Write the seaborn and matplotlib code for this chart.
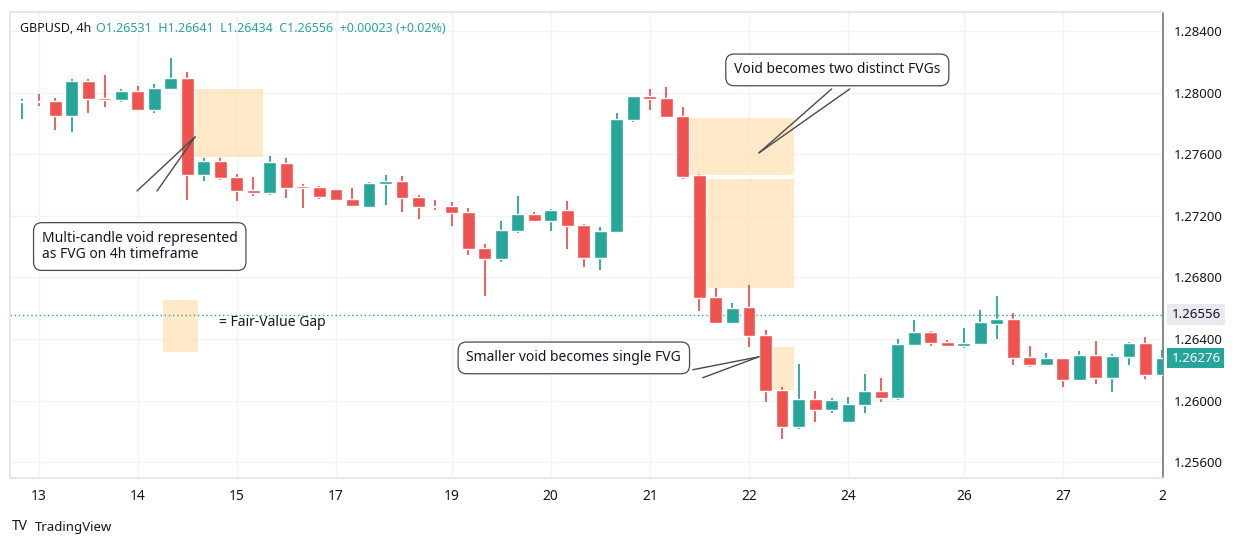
import numpy as np
import pandas as pd
import matplotlib
matplotlib.use('Agg')
import matplotlib.pyplot as plt
import seaborn as sns
from matplotlib.patches import Rectangle

# GBPUSD 4h candles
opens = [1.27939, 1.27946, 1.27946, 1.27848, 1.28075, 1.27965, 1.27952, 1.28010, 1.27887, 1.28023,
         1.28095, 1.27465, 1.27556, 1.27452, 1.27368, 1.27348, 1.27543, 1.27394, 1.27387, 1.27374,
         1.27309, 1.27258, 1.27407, 1.27426, 1.27322, 1.27264, 1.27264, 1.27225, 1.26991, 1.26920,
         1.27102, 1.27212, 1.27167, 1.27238, 1.27141, 1.26927, 1.27095, 1.27822, 1.27978, 1.27965,
         1.27848, 1.27465, 1.26674, 1.26505, 1.26609, 1.26427, 1.26070, 1.25830, 1.26011, 1.25940,
         1.25862, 1.25973, 1.26063, 1.26018, 1.26362, 1.26446, 1.26381, 1.26355, 1.26368, 1.26498,
         1.26531, 1.26284, 1.26232, 1.26277, 1.26135, 1.26297, 1.26148, 1.26284, 1.26375, 1.26168]
highs = [1.27959, 1.27991, 1.27965, 1.28088, 1.28088, 1.28114, 1.28023, 1.28043, 1.28056, 1.28225,
         1.28134, 1.27576, 1.27576, 1.27472, 1.27452, 1.27589, 1.27576, 1.27407, 1.27394, 1.27374,
         1.27381, 1.27420, 1.27465, 1.27459, 1.27335, 1.27303, 1.27290, 1.27251, 1.27017, 1.27167,
         1.27329, 1.27225, 1.27245, 1.27297, 1.27147, 1.27128, 1.27868, 1.27978, 1.28023, 1.28036,
         1.27907, 1.27472, 1.26732, 1.26635, 1.26751, 1.26459, 1.26089, 1.26238, 1.26063, 1.26018,
         1.26024, 1.26174, 1.26148, 1.26401, 1.26524, 1.26453, 1.26394, 1.26472, 1.26589, 1.26680,
         1.26570, 1.26355, 1.26310, 1.26277, 1.26323, 1.26388, 1.26303, 1.26381, 1.26414, 1.26329]
lows = [1.27829, 1.27913, 1.27757, 1.27744, 1.27868, 1.27907, 1.27939, 1.27887, 1.27868, 1.28023,
        1.27303, 1.27426, 1.27433, 1.27297, 1.27329, 1.27335, 1.27316, 1.27251, 1.27309, 1.27297,
        1.27258, 1.27258, 1.27271, 1.27225, 1.27180, 1.27238, 1.27134, 1.26946, 1.26680, 1.26901,
        1.27089, 1.27167, 1.27102, 1.26985, 1.26868, 1.26850, 1.27089, 1.27810, 1.27887, 1.27843,
        1.27439, 1.26583, 1.26505, 1.26505, 1.26349, 1.25992, 1.25752, 1.25817, 1.25862, 1.25921,
        1.25862, 1.25921, 1.25992, 1.26005, 1.26362, 1.26355, 1.26355, 1.26342, 1.26368, 1.26401,
        1.26232, 1.26219, 1.26232, 1.26089, 1.26128, 1.26109, 1.26057, 1.26232, 1.26141, 1.26168]
closes = [1.27946, 1.27939, 1.27848, 1.28075, 1.27959, 1.27952, 1.28010, 1.27887, 1.28030, 1.28095,
          1.27465, 1.27556, 1.27446, 1.27361, 1.27348, 1.27550, 1.27381, 1.27381, 1.27322, 1.27303,
          1.27264, 1.27413, 1.27426, 1.27316, 1.27258, 1.27258, 1.27219, 1.26985, 1.26920, 1.27108,
          1.27212, 1.27167, 1.27238, 1.27134, 1.26927, 1.27102, 1.27829, 1.27978, 1.27959, 1.27843,
          1.27452, 1.26667, 1.26505, 1.26602, 1.26420, 1.26063, 1.25830, 1.26011, 1.25940, 1.26005,
          1.25979, 1.26063, 1.26018, 1.26368, 1.26446, 1.26375, 1.26355, 1.26375, 1.26511, 1.26531,
          1.26277, 1.26232, 1.26277, 1.26135, 1.26297, 1.26148, 1.26290, 1.26375, 1.26168, 1.26277]

day_labels = ['13', '14', '15', '17', '19', '20', '21', '22', '24', '26', '27', '2']
day_candle = [1, 7, 13, 19, 26, 32, 38, 44, 50, 57, 63, 69]

# fair value gaps: (start idx, end idx, low, high)
fvg_zones = [(9.55, 14.6, 1.27582, 1.28023),
             (39.65, 46.7, 1.27465, 1.27836),
             (40.6, 46.7, 1.26732, 1.27439),
             (44.6, 46.7, 1.26070, 1.26349)]
legend_zone = (8.55, 10.65, 1.26316, 1.26654)

last_price = 1.26556
close_price = 1.26276
yticks = [1.256, 1.260, 1.264, 1.268, 1.272, 1.276, 1.280, 1.284]

GREEN = '#26a69a'
RED = '#ef5350'
FVG = '#ffe0b2'

sns.set_theme(style='white', font='Noto Sans')
plt.rcParams['font.size'] = 10

df = pd.DataFrame({'open': opens, 'high': highs, 'low': lows, 'close': closes})
df['x'] = np.arange(len(df))
df['up'] = df['close'] >= df['open']
df['color'] = np.where(df['up'], GREEN, RED)

fig = plt.figure(figsize=(12.37, 5.46), dpi=100)
ax = fig.add_axes([10 / 1237, 1 - 478 / 546, 1153 / 1237, 466 / 546])

for y in yticks:
    ax.axhline(y, color='#f0f3fa', lw=1, zorder=0)
for d in day_candle:
    ax.axvline(d, color='#f0f3fa', lw=1, zorder=0)

for x0, x1, lo, hi in fvg_zones:
    ax.add_patch(Rectangle((x0, lo), x1 - x0, hi - lo, color=FVG, alpha=0.7, lw=0, zorder=1))
x0, x1, lo, hi = legend_zone
ax.add_patch(Rectangle((x0, lo), x1 - x0, hi - lo, color=FVG, alpha=0.7, lw=0, zorder=1))
ax.text(11.95, (lo + hi) / 2 + 0.0002, '= Fair-Value Gap', va='center', fontsize=10, color='#131722')

ax.vlines(df['x'], df['low'], df['high'], colors=df['color'], lw=1.3, zorder=2)
bottoms = np.minimum(df['open'], df['close'])
heights = np.maximum(np.abs(df['close'] - df['open']), 0.00003)
ax.bar(df['x'], heights, bottom=bottoms, width=0.78, color=df['color'], zorder=3)

ax.axhline(last_price, color=GREEN, lw=1, ls=(0, (1, 2)), zorder=1)

ax.set_xlim(-0.73, 69.06)
ax.set_ylim(1.25497, 1.28523)
ax.set_xticks(day_candle)
ax.set_xticklabels(day_labels, fontsize=10, color='#131722')
ax.yaxis.tick_right()
ax.set_yticks(yticks)
ax.set_yticklabels([f'{v:.5f}' for v in yticks], fontsize=9.5, color='#131722')
ax.tick_params(axis='both', length=0, pad=8)
for side in ['top', 'left', 'bottom']:
    ax.spines[side].set_color('#e0e3eb')
ax.spines['right'].set_color('#787b86')

# price labels on right scale
for price, fc, tc in [(last_price, '#e8eaf0', '#131722'), (close_price, GREEN, 'white')]:
    ax.annotate(f'{price:.5f}', xy=(1.0, price), xycoords=('axes fraction', 'data'),
                xytext=(6, 0), textcoords='offset points', va='center', fontsize=9.5,
                fontweight='bold', color=tc, annotation_clip=False,
                bbox=dict(boxstyle='square,pad=0.3', fc=fc, ec='none'))

# callouts
callouts = [
    ('Multi-candle void represented\nas FVG on 4h timeframe', (1.2, 1.27000), [(6.96, 1.27361), (8.17, 1.27361)], (10.47, 1.27712)),
    ('Void becomes two distinct FVGs', (43.1, 1.28147), [(49.0, 1.28023), (50.1, 1.28023)], (44.6, 1.27608)),
    ('Smaller void becomes single FVG', (26.9, 1.26277), [(40.6, 1.26200), (41.2, 1.26148)], (44.6, 1.26284)),
]
for txt, pos, bases, tip in callouts:
    ax.text(pos[0], pos[1], txt, fontsize=10, color='#131722', va='center', ha='left', zorder=6,
            linespacing=1.1,
            bbox=dict(boxstyle='round,pad=0.6,rounding_size=0.6', fc='white', ec='#4a4a4a', lw=0.9))
    for bx, by in bases:
        ax.plot([bx, tip[0]], [by, tip[1]], color='#4a4a4a', lw=1, zorder=5)

# header
fig.text(20 / 1237, 1 - 28 / 546, 'GBPUSD, 4h', fontsize=9, color='#131722', va='center')
fig.text(96 / 1237, 1 - 28 / 546, 'O1.26531  H1.26641  L1.26434  C1.26556  +0.00023 (+0.02%)',
         fontsize=9, color=GREEN, va='center')
fig.text(12 / 1237, 1 - 527 / 546, 'TV', fontsize=10, fontweight='heavy', color='#131722', va='center')
fig.text(35 / 1237, 1 - 527 / 546, 'TradingView', fontsize=9.5, color='#131722', va='center')

fig.savefig('out.png', dpi=100, facecolor='white')
